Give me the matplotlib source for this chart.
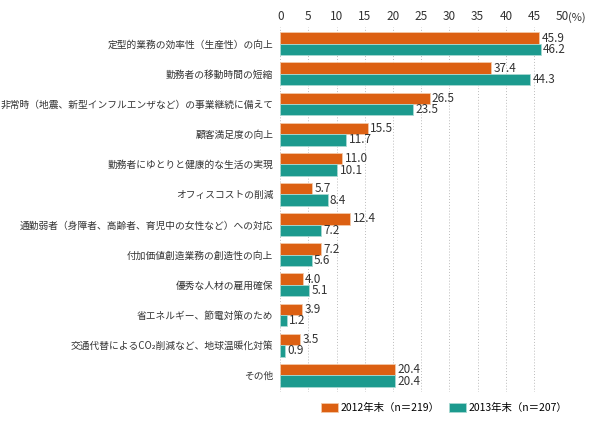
import matplotlib
matplotlib.use("Agg")
import matplotlib.pyplot as plt
import numpy as np

plt.rcParams['font.family'] = ['Noto Sans CJK JP', 'DejaVu Sans']

categories = [
    "定型的業務の効率性（生産性）の向上",
    "勤務者の移動時間の短縮",
    "非常時（地震、新型インフルエンザなど）の事業継続に備えて",
    "顧客満足度の向上",
    "勤務者にゆとりと健康的な生活の実現",
    "オフィスコストの削減",
    "通勤弱者（身障者、高齢者、育児中の女性など）への対応",
    "付加価値創造業務の創造性の向上",
    "優秀な人材の雇用確保",
    "省エネルギー、節電対策のため",
    "交通代替によるCO₂削減など、地球温暖化対策",
    "その他",
]
vals_2012 = [45.9, 37.4, 26.5, 15.5, 11.0, 5.7, 12.4, 7.2, 4.0, 3.9, 3.5, 20.4]
vals_2013 = [46.2, 44.3, 23.5, 11.7, 10.1, 8.4, 7.2, 5.6, 5.1, 1.2, 0.9, 20.4]
labels = ["2012年末（n＝219）", "2013年末（n＝207）"]
colors = ["#dc6012", "#1c9a8e"]

fig = plt.figure(figsize=(5.9, 4.25), dpi=100)
ax = fig.add_axes([0.475, 0.078, 0.478, 0.858])

y = np.arange(len(categories))
h = 0.38
b1 = ax.barh(y - h / 2, vals_2012, h, color=colors[0], edgecolor="#f3c9a8", linewidth=0.6, label=labels[0], zorder=3)
b2 = ax.barh(y + h / 2, vals_2013, h, color=colors[1], edgecolor="#a8d8d2", linewidth=0.6, label=labels[1], zorder=3)
for rects, vals in ((b1, vals_2012), (b2, vals_2013)):
    for r, v in zip(rects, vals):
        ax.text(v + 0.4, r.get_y() + r.get_height() / 2, f"{v:.1f}", va="center", ha="left", fontsize=8.5, color="#333333")

ax.set_xlim(0, 50)
ax.set_ylim(len(categories) - 0.45, -0.55)
ax.set_xticks(range(0, 51, 5))
ax.xaxis.tick_top()
ax.tick_params(axis="x", length=0, labelsize=8.5, colors="#333333", pad=3)
ax.text(51.1, 1.012, "(%)", transform=ax.get_xaxis_transform(), fontsize=8, color="#333333",
        ha="left", va="bottom")
ax.set_yticks(y)
ax.set_yticklabels(categories, fontsize=7, color="#333333")
ax.tick_params(axis="y", length=0, pad=5)
ax.grid(axis="x", color="#bbbbbb", linestyle=(0, (1, 2)), linewidth=0.7, zorder=0)
for s in ax.spines.values():
    s.set_visible(False)

ax.legend(loc="upper right", bbox_to_anchor=(1.05, -0.005), ncol=2, frameon=False, fontsize=7.5,
          handlelength=1.6, handleheight=1.0, columnspacing=1.0, handletextpad=0.2)

fig.savefig("out.png", dpi=100)
